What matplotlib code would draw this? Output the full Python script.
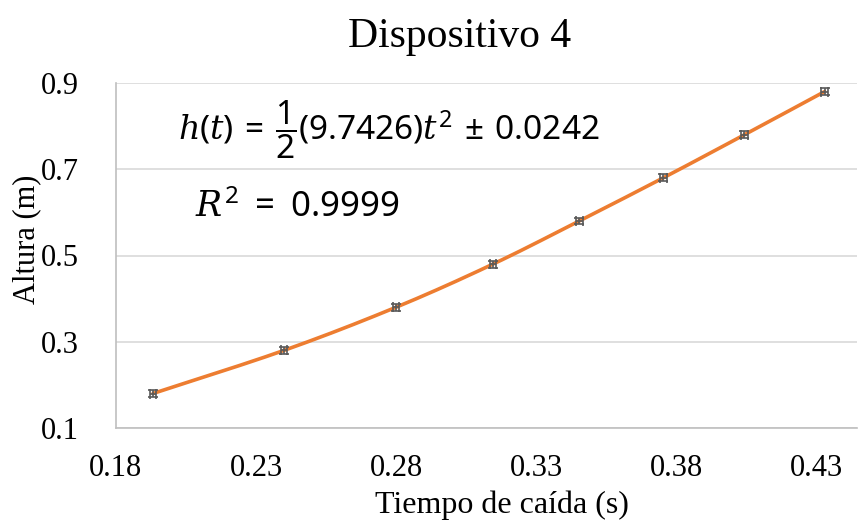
import matplotlib
matplotlib.use("Agg")
import matplotlib.pyplot as plt
import numpy as np

# Data
tiempo = [0.1932, 0.2400, 0.2800, 0.3146, 0.3454, 0.3754, 0.4044, 0.4330]
altura = [0.18, 0.28, 0.38, 0.48, 0.58, 0.68, 0.78, 0.88]
err_altura = [0.008] * 8
err_tiempo = [0.0012] * 8
x_ticks = [0.18, 0.23, 0.28, 0.33, 0.38, 0.43]
y_ticks = [0.1, 0.3, 0.5, 0.7, 0.9]
titulo = "Dispositivo 4"
xlab = "Tiempo de caída (s)"
ylab = "Altura (m)"

plt.rcParams['font.family'] = ['Liberation Serif', 'DejaVu Serif']
plt.rcParams['mathtext.fontset'] = 'custom'
plt.rcParams['mathtext.rm'] = 'Noto Sans'
plt.rcParams['mathtext.it'] = 'DejaVu Serif:italic'


def catmull_rom(x, y, n=20):
    x = np.asarray(x, float)
    y = np.asarray(y, float)
    px = np.concatenate([[2 * x[0] - x[1]], x, [2 * x[-1] - x[-2]]])
    py = np.concatenate([[2 * y[0] - y[1]], y, [2 * y[-1] - y[-2]]])
    xs, ys = [], []
    for i in range(1, len(px) - 2):
        t = np.linspace(0, 1, n, endpoint=False)
        for p, out in ((px, xs), (py, ys)):
            p0, p1, p2, p3 = p[i - 1], p[i], p[i + 1], p[i + 2]
            out.extend(0.5 * ((2 * p1) + (-p0 + p2) * t
                              + (2 * p0 - 5 * p1 + 4 * p2 - p3) * t ** 2
                              + (-p0 + 3 * p1 - 3 * p2 + p3) * t ** 3))
    xs.append(x[-1])
    ys.append(y[-1])
    return np.array(xs), np.array(ys)


fig = plt.figure(figsize=(8.59, 5.25), dpi=100)
ax = fig.add_axes([116/859, 97/525, 741/859, 345/525])

sx, sy = catmull_rom(tiempo, altura)
ax.plot(sx, sy, color='#ED7D31', lw=2.6, zorder=2, solid_capstyle='round')
ax.errorbar(tiempo, altura, yerr=err_altura, xerr=err_tiempo, fmt='none',
            ecolor='#595959', elinewidth=1.2, capsize=3.5, capthick=1.2, zorder=3)

ax.set_xlim(0.18, 0.4446)
ax.set_ylim(0.1, 0.9)
ax.set_xticks(x_ticks)
ax.set_xticklabels([f"{v:.2f}" for v in x_ticks])
ax.set_yticks(y_ticks)
ax.set_yticklabels([f"{v:.1f}" for v in y_ticks])
ax.tick_params(axis='both', length=0, labelsize=22, colors='black')
ax.tick_params(axis='x', pad=19)
ax.tick_params(axis='y', pad=27)

ax.grid(axis='y', color='#d9d9d9', lw=1.2)
ax.set_axisbelow(True)
for s in ['top', 'right']:
    ax.spines[s].set_visible(False)
for s in ['left', 'bottom']:
    ax.spines[s].set_color('#bfbfbf')
    ax.spines[s].set_linewidth(1.2)

fig.text(460/859, 1 - 37/525, titulo, ha='center', va='center', fontsize=30)
fig.text(502/859, 1 - 505/525, xlab, ha='center', va='center', fontsize=23)
fig.text(27/859, 1 - 239/525, ylab, ha='center', va='center', rotation=90, fontsize=22)

fig.text(178/859, 1 - 130/525, r"$h(t)\,=\,\dfrac{1}{2}(9.7426)t^2\,\pm\,0.0242$",
         ha='left', va='center', fontsize=24)
fig.text(195/859, 1 - 208/525, r"$R^2\;=\;0.9999$", ha='left', va='center', fontsize=25)

fig.savefig("out.png", dpi=100)
